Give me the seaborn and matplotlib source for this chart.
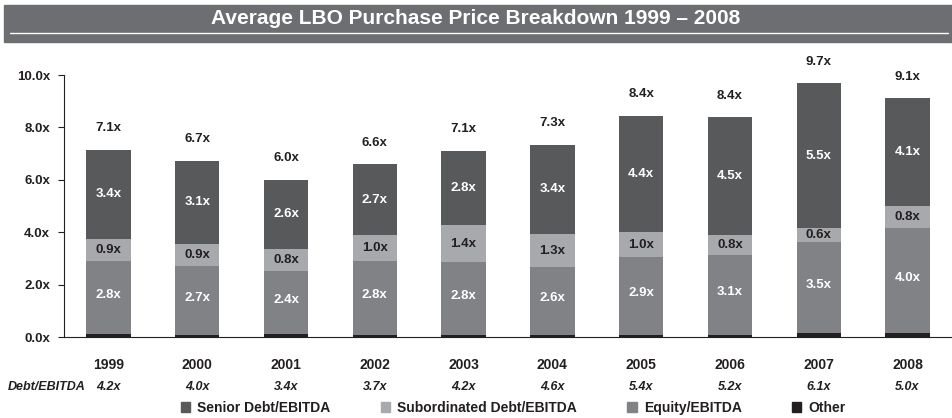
import numpy as np
import pandas as pd
import matplotlib.pyplot as plt
import seaborn as sns
from matplotlib.patches import Rectangle
from matplotlib.lines import Line2D
import matplotlib.transforms as mtransforms

# data (segment heights, bottom to top)
years = ['1999', '2000', '2001', '2002', '2003', '2004', '2005', '2006', '2007', '2008']
other = [0.11, 0.08, 0.11, 0.08, 0.08, 0.08, 0.08, 0.08, 0.14, 0.14]
equity = [2.79, 2.63, 2.41, 2.82, 2.78, 2.59, 2.97, 3.05, 3.49, 4.02]
subordinated = [0.84, 0.84, 0.84, 0.99, 1.41, 1.26, 0.95, 0.76, 0.53, 0.84]
senior = [3.40, 3.18, 2.64, 2.71, 2.83, 3.40, 4.44, 4.49, 5.53, 4.12]

# printed labels
total_lbl = [7.1, 6.7, 6.0, 6.6, 7.1, 7.3, 8.4, 8.4, 9.7, 9.1]
senior_lbl = [3.4, 3.1, 2.6, 2.7, 2.8, 3.4, 4.4, 4.5, 5.5, 4.1]
sub_lbl = [0.9, 0.9, 0.8, 1.0, 1.4, 1.3, 1.0, 0.8, 0.6, 0.8]
equity_lbl = [2.8, 2.7, 2.4, 2.8, 2.8, 2.6, 2.9, 3.1, 3.5, 4.0]
debt_ebitda = [4.2, 4.0, 3.4, 3.7, 4.2, 4.6, 5.4, 5.2, 6.1, 5.0]

c_senior = '#58595b'
c_sub = '#a7a9ac'
c_equity = '#808285'
c_other = '#231f20'
c_text = '#231f20'

sns.set_style('white')
plt.rcParams['font.family'] = ['Liberation Sans', 'DejaVu Sans']

df = pd.DataFrame({'year': years, 'other': other, 'equity': equity,
                   'sub': subordinated, 'senior': senior})
df['top_other'] = df['other']
df['top_equity'] = df['top_other'] + df['equity']
df['top_sub'] = df['top_equity'] + df['sub']
df['top_senior'] = df['top_sub'] + df['senior']

fig = plt.figure(figsize=(9.52, 4.18), dpi=100)
ax = fig.add_axes([64 / 952, 81 / 418, 888 / 952, 262 / 418])

# stacked bars drawn back to front
for col, color in [('top_senior', c_senior), ('top_sub', c_sub),
                   ('top_equity', c_equity), ('top_other', c_other)]:
    sns.barplot(data=df, x='year', y=col, color=color, saturation=1,
                width=0.5, errorbar=None, linewidth=0, ax=ax)

bold = dict(fontweight='bold', ha='center', va='center', fontsize=9.5)
for i in range(len(years)):
    ax.text(i, (df['top_sub'][i] + df['top_senior'][i]) / 2, f'{senior_lbl[i]:.1f}x', color='white', **bold)
    ax.text(i, (df['top_equity'][i] + df['top_sub'][i]) / 2, f'{sub_lbl[i]:.1f}x', color=c_text, **bold)
    ax.text(i, (df['top_other'][i] + df['top_equity'][i]) / 2 + 0.1, f'{equity_lbl[i]:.1f}x', color='white', **bold)
    ax.text(i, df['top_senior'][i] + 0.82, f'{total_lbl[i]:.1f}x', color=c_text, clip_on=False, **bold)

ax.set_xlim(-0.5, 9.5)
ax.set_ylim(0, 10)
ax.set_yticks(np.arange(0, 10.1, 2))
ax.set_yticklabels([f'{v:.1f}x' for v in np.arange(0, 10.1, 2)], fontweight='bold', fontsize=9.5, color=c_text)
ax.set_xticks(range(len(years)))
ax.set_xticklabels(years, fontweight='bold', fontsize=10, color=c_text)
ax.set_xticks(np.arange(-0.5, 9.6, 1), minor=True)
ax.tick_params(axis='x', which='major', length=0, pad=15)
ax.tick_params(axis='x', which='minor', length=5, width=0.8, color=c_text, direction='out')
ax.tick_params(axis='y', length=4, width=0.8, color=c_text, direction='out', left=True, pad=6)
ax.set_xlabel('')
ax.set_ylabel('')
sns.despine(ax=ax, top=True, right=True)
for s in ['left', 'bottom']:
    ax.spines[s].set_color(c_text)
    ax.spines[s].set_linewidth(0.8)

# Debt/EBITDA row
trans = mtransforms.blended_transform_factory(ax.transData, fig.transFigure)
y_row = 1 - 387 / 418
fig.text(8 / 952, y_row, 'Debt/EBITDA', fontsize=9, fontweight='bold', fontstyle='italic',
         color=c_text, ha='left', va='center')
for i, v in enumerate(debt_ebitda):
    ax.text(i, y_row, f'{v:.1f}x', transform=trans, fontsize=9, fontweight='bold',
            fontstyle='italic', color=c_text, ha='center', va='center', clip_on=False)

# legend
handles = [Rectangle((0, 0), 1, 1, color=c) for c in [c_senior, c_sub, c_equity, c_other]]
labels = ['Senior Debt/EBITDA', 'Subordinated Debt/EBITDA', 'Equity/EBITDA', 'Other']
fig.legend(handles, labels, loc='center', bbox_to_anchor=(0.539, 1 - 408 / 418), ncol=4,
           frameon=False, handlelength=0.7, handleheight=0.7, handletextpad=0.5,
           columnspacing=3.6, prop={'weight': 'bold', 'size': 10}, labelcolor=c_text)

# title banner
fig.patches.append(Rectangle((4 / 952, 1 - 42 / 418), 948 / 952, 37 / 418,
                             transform=fig.transFigure, color='#6d6e71', zorder=0))
fig.add_artist(Line2D([10 / 952, 948 / 952], [1 - 33 / 418] * 2, color='white', lw=1,
                      transform=fig.transFigure))
fig.text(0.5, 1 - 19 / 418, 'Average LBO Purchase Price Breakdown 1999 \u2013 2008',
         fontsize=15, fontweight='bold', color='white', ha='center', va='center')

fig.savefig('out.png', dpi=100)
